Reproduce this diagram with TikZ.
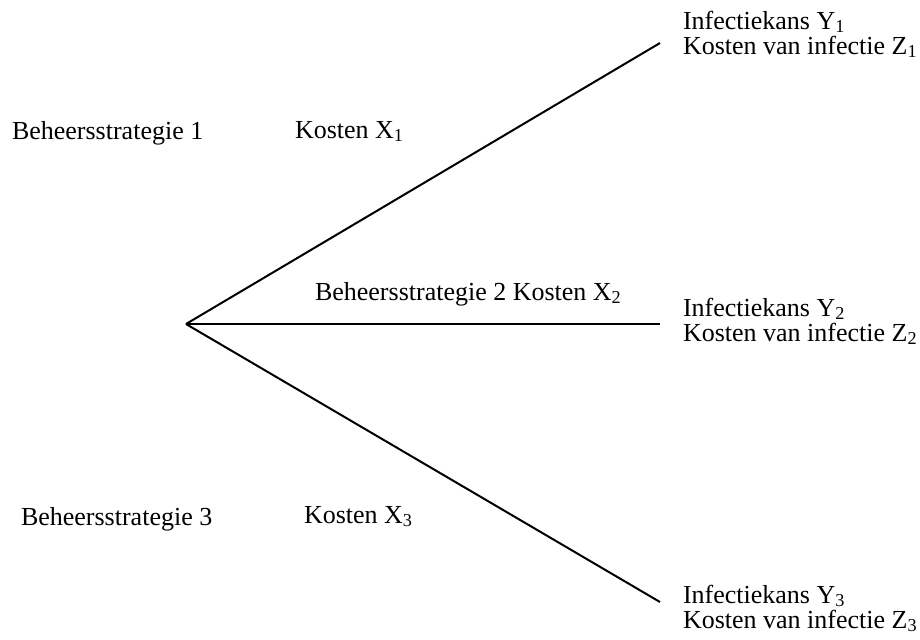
\documentclass[tikz,border=0pt]{standalone}
\usepackage{fontspec}
\setmainfont{Liberation Serif}
\begin{document}
\begin{tikzpicture}[x=0.5pt,y=-0.5pt,
  lbl/.style={anchor=base west, inner sep=0pt, outer sep=0pt,
    font=\fontsize{13}{15}\selectfont},
  outcome/.style={lbl, align=left, font=\fontsize{13}{12.5}\selectfont},
  branch/.style={line width=1pt}]
\useasboundingbox (0,0) rectangle (920,639);
% branching point and branch ends
\coordinate (root) at (186,324);
\coordinate (end1) at (660,43);
\coordinate (end2) at (660,324);
\coordinate (end3) at (660,602);
\draw[branch] (root) -- (end1);
\draw[branch] (root) -- (end2);
\draw[branch] (root) -- (end3);
% strategy labels
\node[lbl] (s1) at (12,139) {Beheersstrategie 1};
\node[lbl] (k1) at (295,138) {Kosten X\textsubscript{1}};
\node[lbl] (s2) at (315,300) {Beheersstrategie 2 Kosten X\textsubscript{2}};
\node[lbl] (s3) at (21,525) {Beheersstrategie 3};
\node[lbl] (k3) at (304,523) {Kosten X\textsubscript{3}};
% outcomes, two lines each (base anchor sits on the second line)
\node[outcome] (o1) at (683,54)
  {Infectiekans Y\textsubscript{1}\\Kosten van infectie Z\textsubscript{1}};
\node[outcome] (o2) at (683,341)
  {Infectiekans Y\textsubscript{2}\\Kosten van infectie Z\textsubscript{2}};
\node[outcome] (o3) at (683,628)
  {Infectiekans Y\textsubscript{3}\\Kosten van infectie Z\textsubscript{3}};
\end{tikzpicture}
\end{document}
